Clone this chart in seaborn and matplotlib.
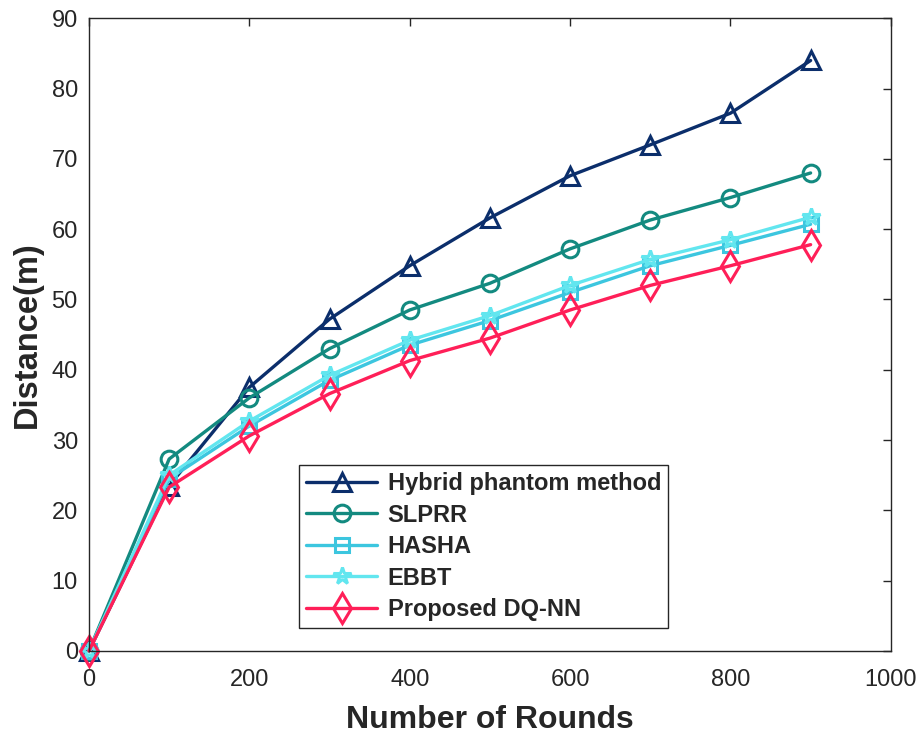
import pandas as pd
import seaborn as sns
import matplotlib.pyplot as plt

rounds = [0, 100, 200, 300, 400, 500, 600, 700, 800, 900]
hybrid = [0, 23.5, 37.5, 47.2, 54.8, 61.6, 67.6, 72.0, 76.5, 84.0]
slprr = [0, 27.3, 36.0, 43.0, 48.5, 52.3, 57.2, 61.3, 64.5, 68.0]
hasha = [0, 24.5, 32.0, 38.5, 43.5, 47.0, 51.0, 54.8, 57.7, 60.7]
ebbt = [0, 25.0, 32.7, 39.2, 44.2, 47.7, 52.0, 55.7, 58.5, 61.7]
dqnn = [0, 23.3, 30.6, 36.6, 41.3, 44.5, 48.5, 52.0, 54.8, 57.8]

# name: (values, colour, marker, marker size)
series = {
    'Hybrid phantom method': (hybrid, '#0b2e6b', '^', 13),
    'SLPRR': (slprr, '#138a80', 'o', 12),
    'HASHA': (hasha, '#3cc6df', 's', 10),
    'EBBT': (ebbt, '#62e6ef', '*', 13),
    'Proposed DQ-NN': (dqnn, '#ff1f58', 'd', 15),
}

sns.set_style('white')
plt.rcParams['font.family'] = ['Liberation Sans', 'DejaVu Sans']

fig = plt.figure(figsize=(9.21, 7.33), dpi=100)
ax = fig.add_axes([0.0966, 0.112, 0.8706, 0.863])

for name, (vals, color, marker, ms) in series.items():
    df = pd.DataFrame({'rounds': rounds, 'dist': vals})
    sns.lineplot(data=df, x='rounds', y='dist', ax=ax, color=color, marker=marker,
                 markersize=ms, markerfacecolor='none', markeredgecolor=color,
                 markeredgewidth=2.2, linewidth=2.4, label=name, clip_on=False)

ax.set_xlim(0, 1000)
ax.set_ylim(0, 90)
ax.set_xticks(range(0, 1001, 200))
ax.set_yticks(range(0, 91, 10))
ax.tick_params(direction='in', labelsize=17, length=6, width=1, colors='#262626',
               top=True, right=True, labelcolor='#262626')
ax.tick_params(axis='x', pad=13)
ax.tick_params(axis='y', pad=8)
for s in ax.spines.values():
    s.set_color('#262626')
    s.set_linewidth(1)
ax.set_xlabel('Number of Rounds', fontsize=23, fontweight='bold', color='#262626', labelpad=10)
ax.set_ylabel('Distance(m)', fontsize=23.5, fontweight='bold', color='#262626', labelpad=6)

leg = ax.legend(loc='lower left', bbox_to_anchor=(0.262, 0.036), fancybox=False,
                framealpha=1, edgecolor='#262626', prop={'size': 17, 'weight': 'bold'},
                handlelength=3.0, handletextpad=0.45, borderpad=0.3, labelspacing=0.36,
                borderaxespad=0)
leg.get_frame().set_linewidth(1)

plt.savefig('out.png', dpi=100)
plt.close()
